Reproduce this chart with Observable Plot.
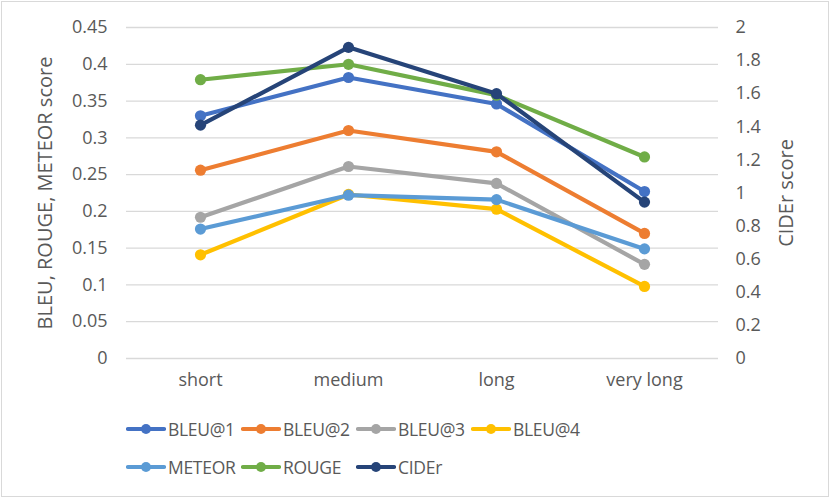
<!DOCTYPE html>
<html>
<head>
<meta charset="utf-8">
<script src="https://cdn.jsdelivr.net/npm/d3@7"></script>
<script src="https://cdn.jsdelivr.net/npm/@observablehq/plot@0.6"></script>
<style>
  body { margin: 0; background: #fff; }
  #wrap { position: relative; width: 831px; height: 502px; overflow: hidden; font-family: "Open Sans", sans-serif; }
  #border { position: absolute; left: 1px; top: 1px; width: 826px; height: 494px; border: 1.5px solid #d9d9d9; pointer-events: none; }
  #legend { position: absolute; left: 126px; top: 410px; width: 470px; display: flex; flex-wrap: wrap; }
  .item { width: 115px; height: 38px; display: flex; align-items: center; font-size: 17.5px; color: #595959; font-family: "Open Sans", sans-serif; letter-spacing: -0.3px; }
  .item svg { margin-right: 2px; }
</style>
</head>
<body>
<div id="wrap"><div id="chart"></div><div id="legend"></div><div id="border"></div></div>
<script>
const categories = ["short", "medium", "long", "very long"];
const bleu1  = [0.330, 0.382, 0.346, 0.227];
const bleu2  = [0.256, 0.310, 0.281, 0.170];
const bleu3  = [0.192, 0.261, 0.238, 0.128];
const bleu4  = [0.141, 0.223, 0.203, 0.098];
const meteor = [0.176, 0.222, 0.216, 0.149];
const rouge  = [0.379, 0.400, 0.358, 0.274];
const cider  = [1.41, 1.88, 1.60, 0.945];
const seriesNames = ["BLEU@1", "BLEU@2", "BLEU@3", "BLEU@4", "METEOR", "ROUGE", "CIDEr"];
const seriesValues = [bleu1, bleu2, bleu3, bleu4, meteor, rouge, cider];
const seriesColors = ["#4472C4", "#ED7D31", "#A5A5A5", "#FFC000", "#5B9BD5", "#70AD47", "#264478"];
const leftTicks = [0, 0.05, 0.1, 0.15, 0.2, 0.25, 0.3, 0.35, 0.4, 0.45];
const rightTicks = [0, 0.2, 0.4, 0.6, 0.8, 1, 1.2, 1.4, 1.6, 1.8, 2];
const leftTitle = "BLEU, ROUGE, METEOR score";
const rightTitle = "CIDEr score";
const leftMax = 0.45, rightMax = 2;
const ratio = leftMax / rightMax;

const rows = seriesNames.flatMap((s, k) => categories.map((c, i) => ({
  series: s, category: c,
  value: s === "CIDEr" ? seriesValues[k][i] * ratio : seriesValues[k][i]
})));

const fmt = d3.format("~g");
const marks = [
  Plot.gridY(leftTicks, {stroke: "#d9d9d9", strokeOpacity: 1, strokeWidth: 1.3}),
  Plot.axisY({ticks: leftTicks, tickSize: 0, tickPadding: 19, tickFormat: fmt, fontSize: 18, label: null}),
  Plot.axisY({anchor: "right", ticks: rightTicks.map(v => v * ratio), tickSize: 0, tickPadding: 17, fontSize: 18,
    tickFormat: d => fmt(+(d / ratio).toFixed(3)), label: null}),
  Plot.axisX({tickSize: 0, tickPadding: 15, label: null, fontSize: 18}),
  Plot.text([leftTitle], {frameAnchor: "left", textAnchor: "middle", rotate: -90, dx: -81, fontSize: 20, fill: "#595959"}),
  Plot.text([rightTitle], {frameAnchor: "right", textAnchor: "middle", rotate: -90, dx: 68, fontSize: 20, fill: "#595959"})
];
seriesNames.forEach((s, k) => {
  const data = rows.filter(r => r.series === s);
  marks.push(Plot.line(data, {x: "category", y: "value", stroke: seriesColors[k], strokeWidth: 4.2}));
  marks.push(Plot.dot(data, {x: "category", y: "value", fill: seriesColors[k], r: 5.6}));
});

const chart = Plot.plot({
  width: 831, height: 400,
  marginTop: 27, marginBottom: 42, marginLeft: 126, marginRight: 113,
  x: {type: "point", domain: categories, padding: 0.5},
  y: {domain: [0, leftMax]},
  style: {fontFamily: "'Open Sans', sans-serif", fontSize: "18px", color: "#595959", background: "transparent"},
  marks
});
document.getElementById("chart").appendChild(chart);

const legend = document.getElementById("legend");
seriesNames.forEach((s, k) => {
  const item = document.createElement("div");
  item.className = "item";
  item.innerHTML = `<svg width="40" height="14"><line x1="2" y1="7" x2="38" y2="7" stroke="${seriesColors[k]}" stroke-width="4.2" stroke-linecap="round"/><circle cx="20" cy="7" r="5" fill="${seriesColors[k]}"/></svg><span>${s}</span>`;
  legend.appendChild(item);
});
</script>
</body>
</html>
